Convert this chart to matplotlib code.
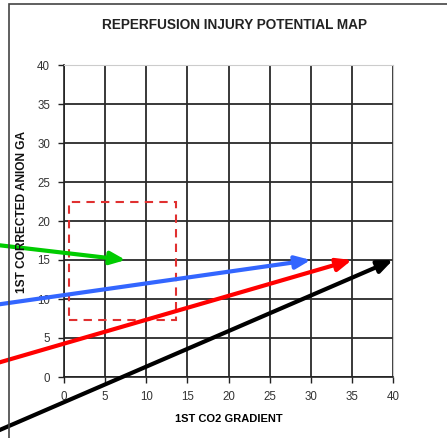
import matplotlib
matplotlib.use("Agg")
import matplotlib.pyplot as plt
from matplotlib.patches import Rectangle

plt.rcParams["font.family"] = ["Liberation Sans", "DejaVu Sans"]

# arrows: (start x, start y) -> (end x, end y), in data units
arrow_colors = ["#00cc00", "#3366ff", "#ff0000", "#000000"]
start_x = [-12.0, -12.0, -12.0, -12.0]
start_y = [17.4, 8.7, 0.6, -8.7]
end_x = [7.5, 30.0, 35.0, 40.0]
end_y = [15.0, 15.0, 15.0, 15.0]

# dashed target box
box_x = [0.6, 13.6]
box_y = [7.3, 22.5]

ticks = [0, 5, 10, 15, 20, 25, 30, 35, 40]

fig = plt.figure(figsize=(4.47, 4.38), dpi=100)
ax = fig.add_axes([64 / 447, 1 - 377 / 438, 329 / 447, 312 / 438])

# chart area frame, partly cut off by the picture edge
fig.patches.append(Rectangle((9 / 447, -0.1), 1.2, 1 - 4 / 438 + 0.1,
                             transform=fig.transFigure, fill=False,
                             edgecolor="#444444", linewidth=1.2))

ax.set_xlim(0, 40)
ax.set_ylim(0, 40)
ax.set_xticks(ticks)
ax.set_yticks(ticks)
ax.grid(True, color="#2a2a2a", linewidth=1.3)
ax.set_axisbelow(True)
ax.tick_params(direction="out", length=4, width=1, colors="#222222",
               labelsize=8.3, labelcolor="#333333", pad=6)
for side in ["top", "right"]:
    ax.spines[side].set_color("#cccccc")
for side in ["left", "bottom"]:
    ax.spines[side].set_color("#222222")
    ax.spines[side].set_linewidth(1.2)

ax.add_patch(Rectangle((box_x[0], box_y[0]), box_x[1] - box_x[0], box_y[1] - box_y[0],
                       fill=False, edgecolor="#e03030", linestyle=(0, (4, 3)),
                       linewidth=1.5, zorder=3))

for c, x0, y0, x1, y1 in zip(arrow_colors, start_x, start_y, end_x, end_y):
    ax.annotate("", xy=(x1, y1), xytext=(x0, y0),
                arrowprops=dict(arrowstyle="-|>,head_length=0.9,head_width=0.38",
                                color=c, lw=3, shrinkA=0, shrinkB=0),
                annotation_clip=False, zorder=4)

fig.text(234 / 447, 1 - 25 / 438, "REPERFUSION INJURY POTENTIAL MAP",
         ha="center", va="center", fontsize=9.8, fontweight="bold", color="#222222")
ax.set_xlabel("1ST CO2 GRADIENT", fontsize=8, fontweight="bold", labelpad=8)
fig.text(22 / 447, 1 - 212 / 438, "1ST CORRECTED ANION GA", rotation=90,
         ha="center", va="center", fontsize=8.6, fontweight="bold", color="#111111")

fig.savefig("out.png", dpi=100)
